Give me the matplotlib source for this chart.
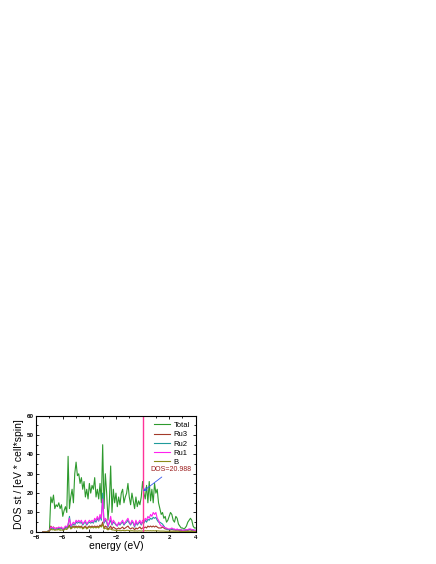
import numpy as np
import matplotlib.pyplot as plt
from matplotlib.ticker import MultipleLocator

plt.rcParams['font.family'] = ['Liberation Sans', 'DejaVu Sans']

# energy grid (eV), 0.1 eV steps from -7.5 to 4.0
energy = np.round(np.arange(-7.5, 4.01, 0.1), 2)

total = [0, 0, 0, 0, 0.5, 1,
         18, 15, 19, 12, 14, 13, 15, 12, 14, 8,
         11, 13, 10, 39, 12, 18, 22, 15, 30, 36,
         29, 30, 25, 28, 22, 26, 18, 22, 17, 25,
         20, 24, 22, 28, 18, 22, 17, 25, 15, 45,
         12, 30, 20, 6, 15, 34, 10, 22, 15, 20,
         13, 18, 14, 20, 22, 15, 18, 20, 25, 18,
         14, 20, 16, 12, 18, 13, 16, 14, 18, 26,
         20, 17, 24, 15, 26, 16, 22, 15, 25, 20,
         22, 15, 12, 9, 10, 7, 8, 5, 6, 8,
         10, 9, 6, 5, 8, 7, 4, 3, 2, 2,
         1.5, 2, 3, 5, 6, 7, 6, 3, 2, 2]

ru1 = [0, 0, 0, 0, 0.3, 0.5,
       2.5, 2, 2.5, 1.5, 2, 2, 2.5, 2, 2.5, 1.5,
       2, 3, 2.5, 4, 7, 3, 4, 5, 4, 6,
       5, 6, 5, 6, 4, 5, 6, 4, 5, 6,
       5, 6, 5, 7, 6, 8, 6, 9, 7, 17,
       5, 7, 6, 3, 5, 8, 4, 6, 5, 4,
       3, 5, 4, 5, 6, 4, 5, 6, 7, 5,
       4, 6, 5, 3, 6, 4, 5, 6, 4, 6,
       5, 7, 6, 8, 7, 9, 8, 10, 9, 10,
       7, 6, 4, 3, 3, 2.5, 2, 2, 1.5, 1.5,
       1.5, 2, 1.5, 1.5, 1, 1.5, 1, 1, 1, 0.8,
       0.8, 1, 1, 1.2, 1.5, 1.5, 1.2, 1, 0.8, 0.8]

ru2 = [0, 0, 0, 0, 0.3, 0.5,
       2, 1.5, 2, 1.2, 1.5, 1.5, 2, 1.5, 2, 1.2,
       1.5, 2.5, 2, 3.5, 8, 2.5, 3.5, 4, 3.5, 5,
       4.5, 5, 4.5, 5, 3.5, 4.5, 5, 3.5, 4.5, 5,
       4.5, 5, 4.5, 6, 5, 7, 5.5, 8, 6, 20,
       4.5, 6, 5, 2.5, 4.5, 6, 3.5, 5, 4.5, 3.5,
       3, 4.5, 3.5, 4.5, 5, 3.5, 4.5, 5, 6, 4.5,
       3.5, 5, 4.5, 2.5, 5, 3.5, 4.5, 5, 3.5, 5,
       4.5, 6, 5, 6.5, 6, 7, 6.5, 7.5, 7, 7.5,
       6, 5, 5, 4.5, 4, 3, 2, 1.5, 1.2, 1.2,
       1.2, 1.5, 1.2, 1.2, 1, 1.2, 1, 1, 1, 0.8,
       0.8, 1, 1, 1, 1.2, 1.2, 1, 1, 0.8, 0.8]

ru3 = [0, 0, 0, 0, 0.2, 0.5,
       3, 2, 2.5, 1.5, 2, 1.5, 2, 1.5, 2, 1.5,
       1.5, 2, 2, 2.5, 3.5, 2, 2.5, 3, 2.5, 3,
       2.5, 3, 2.5, 3, 2, 2.5, 3, 2, 2.5, 3,
       2.5, 3, 2.5, 3, 2.5, 3, 2.5, 3.5, 3, 5,
       2, 3, 2.5, 1.5, 2, 3, 1.5, 2.5, 2, 1.5,
       1.5, 2, 1.5, 2, 2.5, 1.5, 2, 2.5, 3, 2,
       1.5, 2, 2, 1, 2, 1.5, 2, 2.5, 1.5, 2,
       2, 2.5, 2, 3, 2.5, 3, 2.5, 3, 2.5, 3,
       2.5, 2, 2, 2, 2.5, 2, 1.5, 1.5, 1.2, 1.2,
       1, 1.2, 1, 1, 0.8, 1, 0.8, 0.8, 0.8, 0.6,
       0.6, 0.8, 0.8, 0.8, 1, 1, 0.8, 0.8, 0.6, 0.6]

b = [0, 0, 0, 0, 0.2, 0.5,
     1.5, 1, 1.2, 0.8, 1, 1, 1.2, 0.8, 1, 0.8,
     1, 1.5, 1.2, 2, 3, 1.5, 2, 2.5, 2, 2.5,
     2, 2.5, 2, 2.5, 1.5, 2, 2.5, 1.5, 2, 2.5,
     2, 2.5, 2, 2.5, 2, 2.5, 2, 3, 2.5, 4,
     1.5, 2, 1.5, 1, 1.5, 1.5, 1, 1, 0.8, 0.8,
     0.6, 0.8, 0.6, 0.6, 0.8, 0.6, 0.6, 0.8, 0.8, 0.6,
     0.5, 0.6, 0.5, 0.4, 0.5, 0.4, 0.5, 0.5, 0.4, 0.5,
     0.5, 0.6, 0.5, 0.6, 0.5, 0.6, 0.5, 0.6, 0.5, 0.6,
     0.5, 0.5, 0.4, 0.4, 0.4, 0.4, 0.3, 0.3, 0.3, 0.3,
     0.3, 0.3, 0.3, 0.3, 0.3, 0.3, 0.3, 0.2, 0.2, 0.2,
     0.2, 0.2, 0.2, 0.2, 0.2, 0.2, 0.2, 0.2, 0.2, 0.2]

e_fermi = 0.0
dos_fermi = 20.988

fig = plt.figure(figsize=(4.36, 5.64), dpi=100)
ax = fig.add_axes([0.083, 0.057, 0.366, 0.206])

ax.plot(energy, total, color='#2e9a2e', lw=0.8, label='Total')
ax.plot(energy, ru3, color='#a33a2a', lw=0.8, label='Ru3')
ax.plot(energy, ru2, color='#1f9b9b', lw=0.8, label='Ru2')
ax.plot(energy, ru1, color='#ff22ee', lw=0.8, label='Ru1')
ax.plot(energy, b, color='#8c8c1a', lw=0.8, label='B')
ax.axvline(e_fermi, color='#ff3399', lw=1.0)

ax.annotate('DOS=%.3f' % dos_fermi, xy=(e_fermi + 0.05, dos_fermi),
            xytext=(0.6, 32), color='#9b1c1c', fontsize=5,
            va='center',
            arrowprops=dict(arrowstyle='->', color='#3355ee', lw=0.6,
                            shrinkA=1, shrinkB=0))

ax.set_xlim(-8, 4)
ax.set_ylim(0, 60)
ax.xaxis.set_major_locator(MultipleLocator(2))
ax.xaxis.set_minor_locator(MultipleLocator(1))
ax.yaxis.set_major_locator(MultipleLocator(10))
ax.yaxis.set_minor_locator(MultipleLocator(5))
ax.tick_params(which='both', direction='in', top=True, right=True, width=0.6)
ax.tick_params(which='major', length=2.5, labelsize=4.5, pad=2)
ax.tick_params(which='minor', length=1.5)
for lab in ax.get_xticklabels() + ax.get_yticklabels():
    lab.set_fontweight('bold')
for s in ax.spines.values():
    s.set_linewidth(0.8)

ax.set_xlabel('energy (eV)', fontsize=7.5, labelpad=1)
ax.set_ylabel('DOS st / [eV * cell*spin]', fontsize=7.5, labelpad=2)
ax.legend(loc='upper right', frameon=False, fontsize=5.5, handlelength=2.2,
          handletextpad=0.4, labelspacing=0.25, borderaxespad=0.4)

plt.savefig('out.png', dpi=100)
